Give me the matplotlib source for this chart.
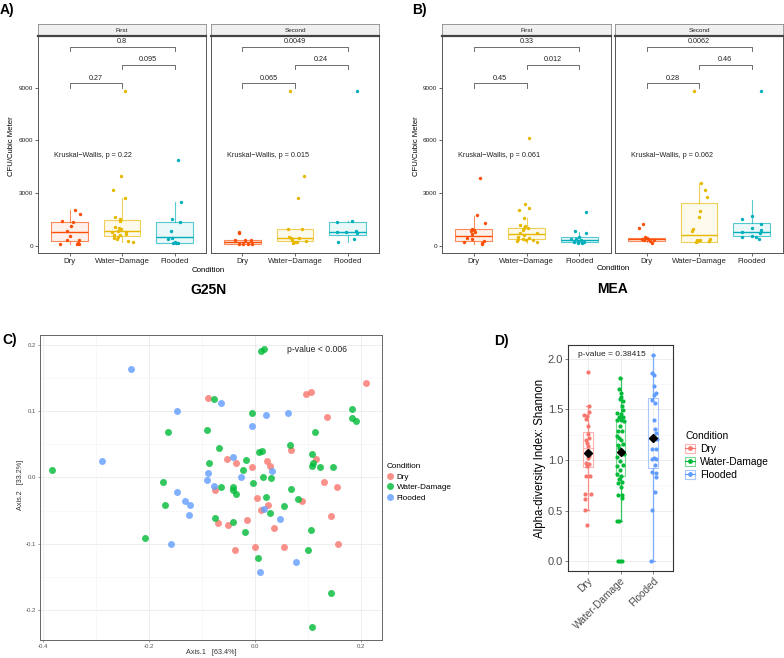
import numpy as np
import matplotlib
matplotlib.use('Agg')
import matplotlib.pyplot as plt
from matplotlib.colors import to_rgba
from matplotlib.patches import Patch
from matplotlib.lines import Line2D

plt.rcParams['font.family'] = ['Liberation Sans', 'DejaVu Sans']

W, H = 784, 658

CONDITIONS = ['Dry', 'Water-Damage', 'Flooded']
TICK_LABELS_AB = ['Dry', 'Water\u2212Damage', 'Flooded']
BOX_COLORS = ['#FC4E07', '#E7B800', '#00AFBB']
GG_COLORS = ['#F8766D', '#00BA38', '#619CFF']

# ---- panel A (G25N) : CFU per cubic meter, values + jitter offsets ----
G25N_FIRST_DRY = [1407, 1350, 1806, 2034, 1122, 820, 535, 325, 307, 171, 114, 97, 80]
G25N_FIRST_DRY_JIT = [-0.14, 0.07, 0.20, 0.11, 0.02, -0.04, 0.0, 0.18, -0.05, 0.16, 0.19, -0.19, 0.15]
G25N_FIRST_WD = [8810, 3990, 3190, 2700, 1650, 1500, 1390, 1080, 1025, 934, 837, 762, 800,
                 590, 610, 650, 420, 478, 285, 228, 365]
G25N_FIRST_WD_JIT = [0.05, -0.01, -0.18, 0.05, -0.14, -0.03, -0.03, -0.13, -0.06, -0.01, -0.08,
                     -0.20, 0.08, -0.15, -0.04, 0.07, -0.16, -0.08, 0.12, 0.20, -0.09]
G25N_FIRST_FL = [4864, 2470, 1520, 1330, 820, 438, 400, 210, 154, 154, 154]
G25N_FIRST_FL_JIT = [0.07, 0.12, -0.04, 0.11, -0.07, -0.04, -0.12, 0.0, -0.02, 0.03, 0.07]
# box stats: whisker low, q1, median, q3, whisker high
G25N_FIRST_STATS = [[80, 285, 800, 1350, 2034], [228, 570, 837, 1445, 2700], [154, 154, 478, 1370, 2470]]

G25N_SECOND_DRY = [800, 706, 342, 325, 342, 114, 80, 80, 80]
G25N_SECOND_DRY_JIT = [-0.07, -0.06, -0.14, 0.04, 0.17, -0.07, 0.01, 0.10, 0.18]
G25N_SECOND_WD = [8810, 3950, 2740, 934, 934, 513, 420, 456, 307, 228, 154, 210, 285]
G25N_SECOND_WD_JIT = [-0.10, 0.18, 0.05, -0.13, 0.13, -0.11, -0.07, 0.07, -0.05, 0.0, -0.03, 0.03, 0.20]
G25N_SECOND_FL = [8810, 1350, 1407, 800, 800, 855, 706, 228, 365]
G25N_SECOND_FL_JIT = [0.18, -0.20, 0.09, -0.20, -0.03, 0.16, 0.19, -0.19, 0.12]
G25N_SECOND_STATS = [[80, 114, 210, 342, 342], [154, 268, 456, 934, 934], [228, 610, 800, 1350, 1407]]

# ---- panel B (MEA) ----
MEA_FIRST_DRY = [3846, 1752, 1295, 936, 896, 799, 839, 650, 422, 365, 268, 194, 137, 80]
MEA_FIRST_DRY_JIT = [0.12, 0.07, 0.21, -0.04, 0.01, 0.02, -0.06, -0.03, -0.13, -0.03, 0.20, -0.19, 0.16, 0.15]
MEA_FIRST_WD = [6146, 2363, 2169, 2055, 1581, 1198, 1107, 993, 1027, 879, 742, 708, 628,
                382, 365, 308, 308, 422, 268, 194, 479]
MEA_FIRST_WD_JIT = [0.05, -0.02, 0.05, -0.15, -0.05, -0.12, -0.03, -0.05, 0.02, -0.07, 0.20,
                    -0.13, -0.04, -0.16, -0.07, -0.01, 0.12, 0.04, -0.18, 0.20, -0.16]
MEA_FIRST_FL = [1923, 822, 708, 497, 382, 365, 268, 308, 211, 154, 154, 211]
MEA_FIRST_FL_JIT = [0.12, -0.09, 0.12, 0.0, -0.16, -0.06, -0.02, 0.03, -0.10, -0.03, 0.05, 0.08]
MEA_FIRST_STATS = [[80, 251, 571, 936, 1695], [154, 365, 668, 993, 1598], [137, 194, 308, 479, 782]]

MEA_SECOND_DRY = [1221, 1027, 497, 422, 365, 365, 342, 268, 137, 308]
MEA_SECOND_DRY_JIT = [-0.06, -0.14, -0.03, 0.0, -0.09, 0.03, 0.15, 0.07, 0.10, -0.05]
MEA_SECOND_WD = [8829, 3578, 3162, 2796, 1980, 1638, 936, 822, 308, 308, 365, 228, 268, 268]
MEA_SECOND_WD_JIT = [-0.10, 0.03, 0.12, 0.16, 0.02, 0.0, -0.11, -0.14, -0.03, 0.02, 0.20, -0.05, -0.01, 0.19]
MEA_SECOND_FL = [8829, 1712, 1506, 1255, 1010, 913, 782, 742, 514, 535, 514, 400]
MEA_SECOND_FL_JIT = [0.18, 0.01, -0.19, 0.19, 0.0, 0.18, -0.19, 0.16, -0.18, 0.0, 0.08, 0.14]
MEA_SECOND_STATS = [[211, 268, 365, 439, 497], [228, 228, 611, 2420, 3595], [514, 535, 764, 1277, 2590]]

# pairwise p-values: (Dry vs WD, WD vs Flooded, Dry vs Flooded)
G25N_FIRST_P = ['0.27', '0.095', '0.8']
G25N_SECOND_P = ['0.065', '0.24', '0.0049']
MEA_FIRST_P = ['0.45', '0.012', '0.33']
MEA_SECOND_P = ['0.28', '0.46', '0.0062']
KW_P = ['0.22', '0.015', '0.061', '0.062']
BRACKET_Y = [9250, 10290, 11335]

# ---- panel C : PCoA ----
PCOA_DRY_X = [-0.088, -0.053, -0.036, -0.075, -0.005, 0.003, -0.070, -0.050, -0.015, -0.037, 0.000,
              0.012, 0.2095, 0.0965, 0.105, 0.137, 0.0686, 0.1156, 0.022, 0.028, 0.131, 0.155,
              0.088, 0.0248, 0.1435, 0.036, 0.0552, 0.157]
PCOA_DRY_Y = [0.119, 0.028, 0.021, -0.019, 0.0155, -0.031, -0.069, -0.071, -0.064, -0.109, -0.105,
              -0.049, 0.143, 0.125, 0.129, 0.0905, 0.0407, 0.027, 0.025, 0.0175, -0.0076, -0.015,
              -0.036, -0.041, -0.058, -0.076, -0.1047, -0.101]
PCOA_WD_X = [-0.384, -0.165, -0.207, -0.173, -0.170, -0.077, -0.090, -0.068, -0.086, -0.065, -0.042,
             -0.042, -0.036, -0.016, -0.023, -0.003, -0.006, 0.011, 0.017, 0.0076, 0.014, -0.075,
             -0.042, -0.018, 0.006, 0.1835, 0.183, 0.191, 0.113, 0.067, 0.1086, 0.109, 0.108,
             0.123, 0.1467, 0.0152, 0.030, 0.0686, 0.020, 0.081, 0.0546, 0.0286, 0.105, 0.100,
             0.143, 0.1086]
PCOA_WD_Y = [0.0106, 0.069, -0.091, -0.0075, -0.041, 0.118, 0.071, 0.044, 0.0216, -0.015, -0.015,
             -0.019, -0.025, 0.026, 0.011, -0.0086, 0.0965, 0.190, 0.193, 0.0386, 0.040, -0.061,
             -0.067, -0.083, -0.121, 0.1025, 0.089, 0.0845, 0.069, 0.0487, 0.036, 0.022, 0.0175,
             0.015, 0.0155, 0.001, -0.0005, -0.017, -0.030, -0.032, -0.043, -0.054, -0.0795,
             -0.1097, -0.1745, -0.2248]
PCOA_FL_X = [-0.235, -0.288, -0.147, -0.148, -0.133, -0.123, -0.124, -0.158, -0.065, -0.041, -0.089,
             -0.091, -0.078, -0.026, -0.0057, 0.0095, 0.0216, 0.063, 0.032, 0.017, 0.0476, 0.0775]
PCOA_FL_Y = [0.163, 0.024, 0.100, -0.022, -0.036, -0.042, -0.056, -0.100, 0.112, 0.031, 0.006,
             -0.0045, -0.0127, 0.001, 0.078, -0.142, 0.0935, 0.0975, 0.0095, -0.048, -0.0624, -0.128]

# ---- panel D : Shannon index ----
SHANNON_DRY = [1.87, 1.53, 1.44, 1.43, 1.47, 1.40, 1.34, 1.26, 1.20, 1.22, 1.17, 1.14, 1.09,
               1.04, 1.02, 0.975, 0.965, 0.94, 0.84, 0.84, 0.66, 0.66, 0.61, 0.51, 0.356]
SHANNON_DRY_JIT = [0.01, 0.04, -0.10, -0.03, 0.04, -0.06, 0.0, 0.02, -0.06, 0.05, -0.03, 0.02, -0.03,
                   0.04, 0.01, -0.05, 0.03, -0.02, -0.06, 0.08, -0.07, 0.09, -0.09, -0.07, -0.03]
SHANNON_WD = [1.81, 1.70, 1.66, 1.62, 1.58, 1.60, 1.53, 1.49, 1.46, 1.45, 1.42, 1.42, 1.39, 1.39,
              1.38, 1.34, 1.29, 1.29, 1.24, 1.22, 1.20, 1.16, 1.15, 1.12, 1.10, 1.06, 1.03, 0.99,
              0.95, 0.94, 0.90, 0.86, 0.84, 0.81, 0.78, 0.77, 0.73, 0.65, 0.65, 0.62, 0.40, 0.40,
              0.0, 0.0, 0.0]
SHANNON_WD_JIT = [-0.03, -0.04, 0.0, 0.03, 0.07, -0.03, 0.05, 0.09, -0.10, 0.03, -0.04, 0.08, 0.0,
                  -0.10, 0.10, -0.02, -0.08, 0.05, -0.12, -0.04, 0.0, 0.08, -0.09, -0.06, 0.03,
                  0.10, -0.10, -0.01, 0.08, -0.10, -0.03, -0.11, 0.02, -0.06, 0.06, -0.09, 0.0,
                  0.05, -0.07, 0.04, -0.04, -0.10, -0.09, -0.03, 0.04]
SHANNON_FL = [2.04, 1.86, 1.84, 1.73, 1.66, 1.64, 1.59, 1.56, 1.39, 1.31, 1.27, 1.23, 1.21, 1.11,
              1.11, 1.01, 1.02, 1.01, 0.95, 0.88, 0.87, 0.83, 0.68, 0.51, 0.0]
SHANNON_FL_JIT = [0.0, -0.04, 0.01, 0.03, 0.08, 0.03, -0.05, 0.06, 0.02, 0.06, 0.08, -0.01, 0.10,
                  -0.03, 0.08, -0.05, 0.02, 0.08, 0.04, -0.04, 0.07, 0.07, 0.04, -0.04, -0.06]
SHANNON_STATS = [[0.51, 0.93, 1.12, 1.28, 1.53], [0.40, 0.84, 1.15, 1.39, 1.81], [0.0, 0.92, 1.21, 1.61, 2.04]]
SHANNON_MEANS = [1.07, 1.08, 1.22]


def px_rect(x0, y0, x1, y1):
    return [x0 / W, 1 - y1 / H, (x1 - x0) / W, (y1 - y0) / H]


def fx(x):
    return x / W


def fy(y):
    return 1 - y / H


def to_stat(s):
    return dict(whislo=s[0], q1=s[1], med=s[2], q3=s[3], whishi=s[4], fliers=[])


fig = plt.figure(figsize=(W / 100, H / 100), dpi=100)


def draw_facet(x0, x1, strip, groups, stats, pvals, kw, show_y):
    ax = fig.add_axes(px_rect(x0, 36, x1, 253))
    sax = fig.add_axes(px_rect(x0, 24, x1, 36))
    for i in range(3):
        c = BOX_COLORS[i]
        ax.bxp([to_stat(stats[i])], positions=[i + 1], widths=0.7, patch_artist=True,
               showcaps=False, showfliers=False,
               boxprops=dict(facecolor=to_rgba(c, 0.08), edgecolor=to_rgba(c, 0.65), lw=0.8),
               whiskerprops=dict(color=to_rgba(c, 0.65), lw=0.8),
               medianprops=dict(color=c, lw=1.0), zorder=2)
        vals, jit = groups[i]
        ax.scatter(i + 1 + np.array(jit), vals, s=6, color=c, linewidths=0, zorder=3)
    pairs = [(1, 2), (2, 3), (1, 3)]
    for (a, b), yb, lab in zip(pairs, BRACKET_Y, pvals):
        ax.plot([a, a, b, b], [yb - 250, yb, yb, yb - 250], color='#555555', lw=0.6)
        ax.text((a + b) / 2, yb + 90, lab, ha='center', va='bottom', fontsize=5.2, color='#222222')
    ax.text(0.70, 5150, 'Kruskal\u2212Wallis, p = ' + kw, ha='left', va='center',
            fontsize=5.2, color='#222222')
    ax.set_xlim(0.4, 3.6)
    ax.set_ylim(-420, 11940)
    ax.set_xticks([1, 2, 3])
    ax.set_xticklabels(TICK_LABELS_AB)
    ax.set_yticks([0, 3000, 6000, 9000])
    ax.tick_params(axis='x', labelsize=5.6, length=2, width=0.5, pad=1.5, colors='#222222')
    ax.tick_params(axis='y', labelsize=4.6, length=2, width=0.5, pad=1.2, colors='#222222')
    if not show_y:
        ax.tick_params(axis='y', left=False, labelleft=False)
    for sp in ax.spines.values():
        sp.set_color('#555555')
        sp.set_linewidth(0.7)
    sax.set_facecolor('#F0F0F0')
    sax.set_xticks([])
    sax.set_yticks([])
    for sp in sax.spines.values():
        sp.set_color('#777777')
        sp.set_linewidth(0.5)
    sax.spines['bottom'].set_color('#444444')
    sax.spines['bottom'].set_linewidth(1.6)
    sax.text(0.5, 0.5, strip, ha='center', va='center', fontsize=4.6, color='#222222',
             transform=sax.transAxes)
    return ax


# ---- A ----
draw_facet(38, 206, 'First',
           [(G25N_FIRST_DRY, G25N_FIRST_DRY_JIT), (G25N_FIRST_WD, G25N_FIRST_WD_JIT),
            (G25N_FIRST_FL, G25N_FIRST_FL_JIT)], G25N_FIRST_STATS, G25N_FIRST_P, KW_P[0], True)
draw_facet(211, 379, 'Second',
           [(G25N_SECOND_DRY, G25N_SECOND_DRY_JIT), (G25N_SECOND_WD, G25N_SECOND_WD_JIT),
            (G25N_SECOND_FL, G25N_SECOND_FL_JIT)], G25N_SECOND_STATS, G25N_SECOND_P, KW_P[1], False)
fig.text(fx(11.5), fy(146), 'CFU/Cubic Meter', rotation=90, ha='center', va='center', fontsize=5.6)
fig.text(fx(208), fy(270), 'Condition', ha='center', va='center', fontsize=5.7)
fig.text(fx(208), fy(290), 'G25N', ha='center', va='center', fontsize=10, fontweight='bold')
fig.text(fx(0), fy(3), 'A)', ha='left', va='top', fontsize=10, fontweight='bold')

# ---- B ----
draw_facet(442, 611, 'First',
           [(MEA_FIRST_DRY, MEA_FIRST_DRY_JIT), (MEA_FIRST_WD, MEA_FIRST_WD_JIT),
            (MEA_FIRST_FL, MEA_FIRST_FL_JIT)], MEA_FIRST_STATS, MEA_FIRST_P, KW_P[2], True)
draw_facet(615, 783, 'Second',
           [(MEA_SECOND_DRY, MEA_SECOND_DRY_JIT), (MEA_SECOND_WD, MEA_SECOND_WD_JIT),
            (MEA_SECOND_FL, MEA_SECOND_FL_JIT)], MEA_SECOND_STATS, MEA_SECOND_P, KW_P[3], False)
fig.text(fx(416), fy(146), 'CFU/Cubic Meter', rotation=90, ha='center', va='center', fontsize=5.6)
fig.text(fx(613), fy(269), 'Condition', ha='center', va='center', fontsize=5.7)
fig.text(fx(613), fy(289), 'MEA', ha='center', va='center', fontsize=10, fontweight='bold')
fig.text(fx(412), fy(3), 'B)', ha='left', va='top', fontsize=10, fontweight='bold')

# ---- C ----
axc = fig.add_axes(px_rect(40, 335, 382, 640))
for xs, ys, c in zip([PCOA_DRY_X, PCOA_WD_X, PCOA_FL_X], [PCOA_DRY_Y, PCOA_WD_Y, PCOA_FL_Y], GG_COLORS):
    axc.scatter(xs, ys, s=25, color=c, alpha=0.8, linewidths=0, zorder=3)
axc.set_xlim(-0.406, 0.24)
axc.set_ylim(-0.245, 0.2146)
axc.set_xticks([-0.4, -0.2, 0.0, 0.2])
axc.set_xticklabels(['-0.4', '-0.2', '0.0', '0.2'])
axc.set_xticks([-0.3, -0.1, 0.1], minor=True)
axc.set_yticks([-0.2, -0.1, 0.0, 0.1, 0.2])
axc.set_yticklabels(['-0.2', '-0.1', '0.0', '0.1', '0.2'])
axc.set_yticks([-0.15, -0.05, 0.05, 0.15], minor=True)
axc.grid(which='major', color='#EBEBEB', lw=0.6)
axc.grid(which='minor', color='#F4F4F4', lw=0.4)
axc.set_axisbelow(True)
axc.tick_params(which='major', labelsize=4.3, colors='#555555', length=1.5, width=0.4, pad=1.5)
axc.tick_params(which='minor', length=0)
for sp in axc.spines.values():
    sp.set_color('#666666')
    sp.set_linewidth(0.7)
axc.text(0.061, 0.192, 'p-value < 0.006', ha='left', va='center', fontsize=6.2, color='#222222')
fig.text(fx(211), fy(653), 'Axis.1   [63.4%]', ha='center', va='center', fontsize=5.2, color='#333333')
fig.text(fx(21), fy(485), 'Axis.2   [33.2%]', rotation=90, ha='center', va='center', fontsize=5.2,
         color='#333333')
fig.text(fx(2), fy(333), 'C)', ha='left', va='top', fontsize=10, fontweight='bold')
c_handles = [Line2D([], [], marker='o', ls='', color=c, alpha=0.8, markersize=5, markeredgewidth=0)
             for c in GG_COLORS]
lc = fig.legend(c_handles, CONDITIONS, title='Condition', loc='upper left',
                bbox_to_anchor=(fx(387), fy(463)), frameon=False, fontsize=5.9, title_fontsize=5.9,
                handlelength=0.8, handletextpad=0.4, labelspacing=0.35, borderaxespad=0, borderpad=0)
lc._legend_box.align = 'left'

# ---- D ----
axd = fig.add_axes(px_rect(568, 345, 673, 571))
for i in range(3):
    c = GG_COLORS[i]
    axd.bxp([to_stat(SHANNON_STATS[i])], positions=[i + 1], widths=0.3, patch_artist=True,
            showcaps=True, capwidths=0.1, showfliers=False,
            boxprops=dict(facecolor='none', edgecolor=to_rgba(c, 0.55), lw=0.8),
            whiskerprops=dict(color=to_rgba(c, 0.8), lw=0.9),
            capprops=dict(color=to_rgba(c, 0.8), lw=0.9),
            medianprops=dict(color=to_rgba(c, 0.55), lw=0.8), zorder=2)
for i, (vals, jit) in enumerate([(SHANNON_DRY, SHANNON_DRY_JIT), (SHANNON_WD, SHANNON_WD_JIT),
                                 (SHANNON_FL, SHANNON_FL_JIT)]):
    axd.scatter(i + 1 + np.array(jit), vals, s=9, color=GG_COLORS[i], linewidths=0, zorder=3)
axd.plot([1, 2, 3], SHANNON_MEANS, ls='', marker='D', color='black', markersize=4.5, zorder=4)
axd.set_xlim(0.4, 3.6)
axd.set_ylim(-0.096, 2.135)
axd.set_xticks([1, 2, 3])
axd.set_xticklabels(CONDITIONS, rotation=45, ha='right', rotation_mode='anchor')
axd.set_yticks([0, 0.5, 1.0, 1.5, 2.0])
axd.set_yticklabels(['0.0', '0.5', '1.0', '1.5', '2.0'])
axd.set_yticks([0.25, 0.75, 1.25, 1.75], minor=True)
axd.grid(which='major', color='#EBEBEB', lw=0.6)
axd.grid(which='minor', axis='y', color='#F4F4F4', lw=0.4)
axd.set_axisbelow(True)
axd.tick_params(which='major', labelsize=8, colors='#4D4D4D', length=2, width=0.5, pad=1.5)
axd.tick_params(axis='x', labelsize=7.3)
axd.tick_params(which='minor', length=0)
for sp in axd.spines.values():
    sp.set_color('#333333')
    sp.set_linewidth(0.8)
axd.text(0.71, 2.045, 'p-value = 0.38415', ha='left', va='center', fontsize=6, color='#222222')
fig.text(fx(540), fy(458), 'Alpha-diversity Index: Shannon', rotation=90, ha='center', va='center',
         fontsize=8.3)
fig.text(fx(494), fy(334), 'D)', ha='left', va='top', fontsize=10, fontweight='bold')
d_handles = [(Patch(facecolor='white', edgecolor=to_rgba(c, 0.55), lw=0.8),
              Line2D([], [], marker='o', ls='-', color=c, lw=0.8, markersize=3.5, markeredgewidth=0))
             for c in GG_COLORS]
ld = fig.legend(d_handles, CONDITIONS, title='Condition', loc='upper left',
                bbox_to_anchor=(fx(685), fy(431)), frameon=False, fontsize=7.4, title_fontsize=7.4,
                handlelength=1.0, handleheight=0.9, handletextpad=0.5, labelspacing=0.3,
                borderaxespad=0, borderpad=0)
ld._legend_box.align = 'left'

fig.savefig('out.png', dpi=100)
